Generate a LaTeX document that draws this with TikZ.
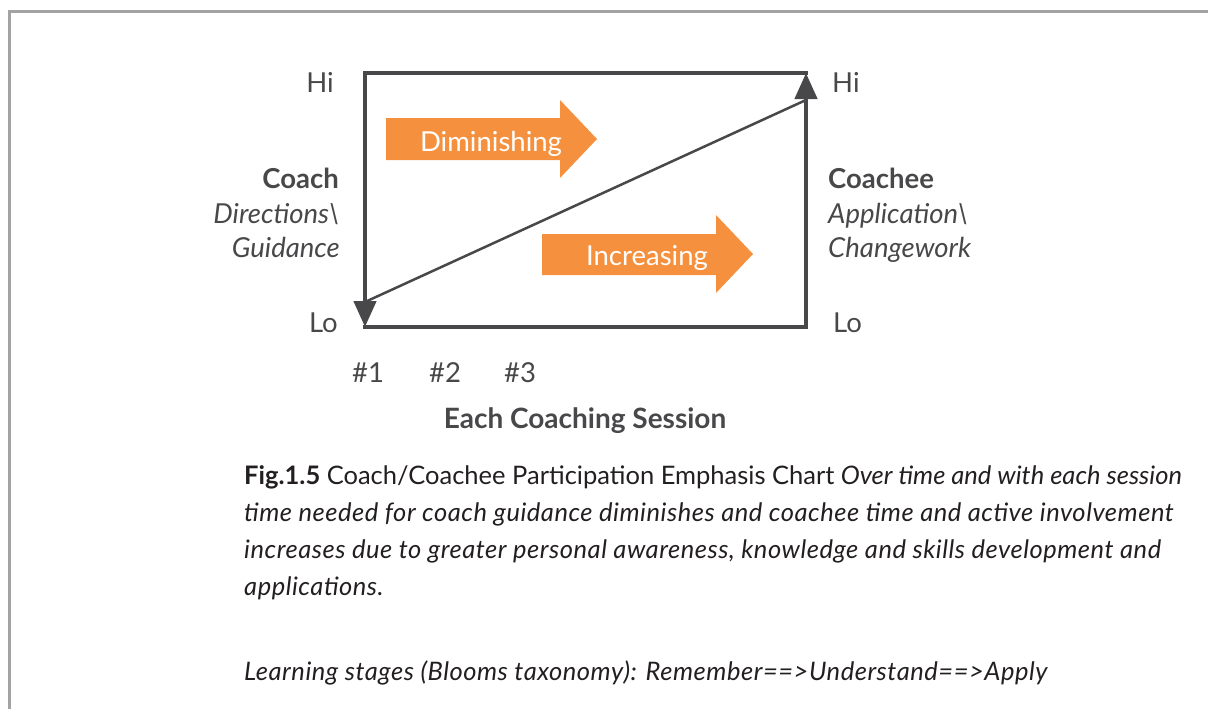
\documentclass[tikz,border=0pt]{standalone}
\usepackage{fontspec}
\setmainfont{Lato}
\usetikzlibrary{arrows.meta}
\definecolor{chartgrey}{HTML}{48484A}
\definecolor{boxorange}{HTML}{F5913E}
\definecolor{framegrey}{HTML}{A3A3A3}
\definecolor{captext}{HTML}{231F20}
\newcommand{\capit}[1]{{\itshape\addfontfeatures{LetterSpace=2.1}#1}}
\tikzset{
	axis/.style = {chartgrey, line width = 4.5pt},
	lbl/.style = {text = chartgrey, inner sep = 0pt, font = \fontsize{27.5}{32}\selectfont},
	captiontext/.style = {text = captext, inner sep = 0pt, anchor = base west, align = left, font = \fontsize{25.5}{37}\selectfont}
}
\begin{document}
\begin{tikzpicture}[x = 1pt, y = -1pt]
	\useasboundingbox (0,0) rectangle (1208,709);
	\draw[framegrey, line width = 3pt] (9,709) -- (9,12) -- (1208,12);
	
	\coordinate[](tl) at (365,73) ;
	\coordinate[](tr) at (806,73) ;
	\coordinate[](bl) at (365,327) ;
	\coordinate[](br) at (806,327) ;
	\coordinate[](lo) at (365,302) ;
	\coordinate[](hi) at (806,100) ;
	
	\draw[axis, line cap = rect] (tl) -- (tr);
	\draw[axis, line cap = rect] (bl) -- (br);
	\draw[axis, -{Triangle[length = 26pt, width = 22pt]}] (tl) -- (bl);
	\draw[axis, -{Triangle[length = 26pt, width = 22pt]}] (br) -- (tr);
	\draw[chartgrey, line width = 2.5pt] (lo) -- (hi);
	
	\fill[boxorange] (386,118) -- (560,118) -- (560,100) -- (597,139)
		-- (560,178) -- (560,160) -- (386,160) -- cycle;
	\fill[boxorange] (542,234) -- (716,234) -- (716,215) -- (753,254)
		-- (716,293) -- (716,275) -- (542,275) -- cycle;
	\node[lbl, text = white, anchor = base](dim) at (491,151) {Diminishing};
	\node[lbl, text = white, anchor = base](inc) at (647,265) {Increasing};
	
	\node[lbl, anchor = base east](hileft) at (334,92.5) {Hi};
	\node[lbl, anchor = base west](hiright) at (832,92.5) {Hi};
	\node[lbl, anchor = base east](loleft) at (338,332) {Lo};
	\node[lbl, anchor = base west](loright) at (833,332) {Lo};
	
	\node[lbl, anchor = base east](coach) at (339,188) {\textbf{Coach}};
	\node[lbl, anchor = base east](coachdir) at (340,223) {\textit{Directions\textbackslash}};
	\node[lbl, anchor = base east](coachguid) at (340,257) {\textit{Guidance}};
	\node[lbl, anchor = base west](coachee) at (828,188) {\textbf{Coachee}};
	\node[lbl, anchor = base west](coacheeapp) at (828,223) {\textit{Application\textbackslash}};
	\node[lbl, anchor = base west](coacheechg) at (828,257) {\textit{Changework}};
	
	\node[lbl, anchor = base](sone) at (368,382) {\#1};
	\node[lbl, anchor = base](stwo) at (445,382) {\#2};
	\node[lbl, anchor = base](sthree) at (520,382) {\#3};
	\node[lbl, anchor = base, font = \fontsize{28}{32}\selectfont\bfseries](session) at (585,428) {Each Coaching Session};
	
	\node[captiontext](caption) at (244,595) {\textbf{Fig.1.5} Coach/Coachee Participation Emphasis Chart \textit{Over time and with each session}\\
		\capit{time needed for coach guidance diminishes and coachee time and active involvement}\\
		\capit{increases due to greater personal awareness, knowledge and skills development and}\\
		\capit{applications.}};
	\node[captiontext](stages) at (244,680) {\capit{Learning stages (Blooms taxonomy): Remember==>Understand==>Apply}};
\end{tikzpicture}
\end{document}
